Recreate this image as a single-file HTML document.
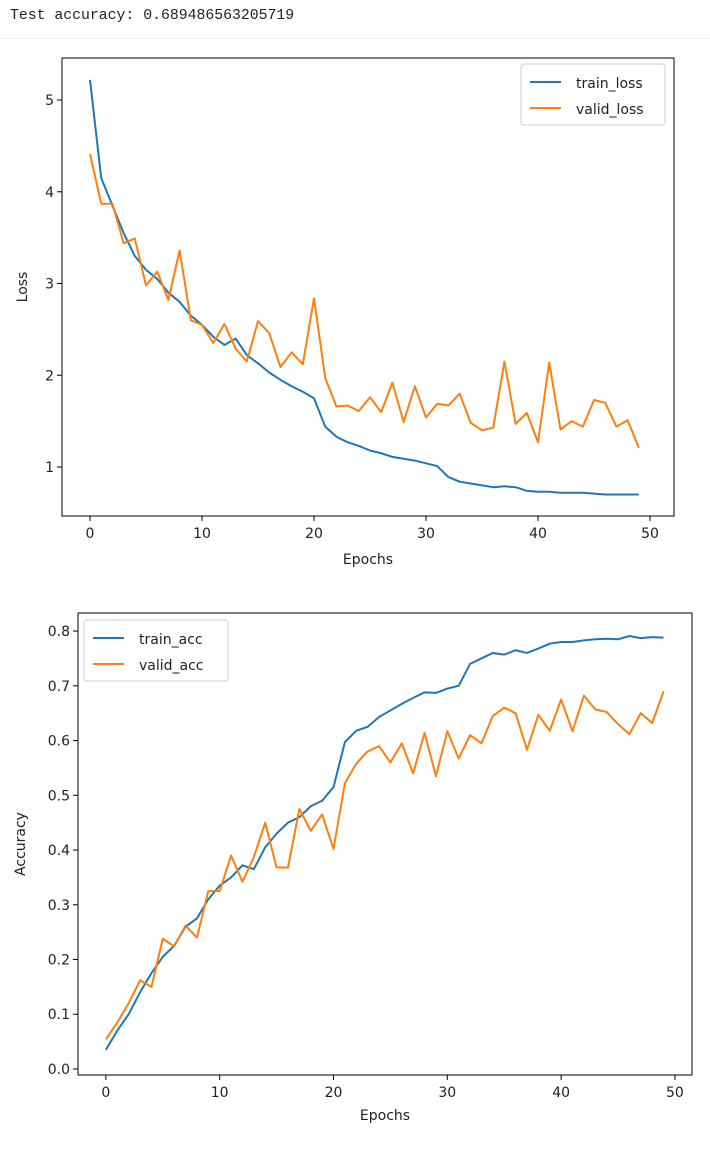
<!DOCTYPE html>
<html><head><meta charset="utf-8"><style>
body{margin:0;background:#fff;width:710px;height:1150px;overflow:hidden}
#hdr{position:absolute;left:10px;top:8px;font:14.8px "Liberation Mono","DejaVu Sans Mono",monospace;color:#222}
#sep{position:absolute;left:0;top:38px;width:710px;height:1px;background:#eee}
svg{position:absolute;left:0;top:0}
text{font-family:"DejaVu Sans","Liberation Sans",sans-serif;font-size:14px;fill:#222}
</style></head><body>
<div id="hdr">Test accuracy: 0.689486563205719</div>
<div id="sep"></div>
<svg id="s" width="710" height="1150"></svg>
<script>
const epochs=[...Array(50).keys()];
const trainLoss=[5.22,4.15,3.85,3.55,3.3,3.15,3.05,2.9,2.8,2.65,2.55,2.42,2.33,2.4,2.22,2.13,2.03,1.95,1.88,1.82,1.75,1.44,1.33,1.27,1.23,1.18,1.15,1.11,1.09,1.07,1.04,1.01,0.89,0.84,0.82,0.8,0.78,0.79,0.78,0.74,0.73,0.73,0.72,0.72,0.72,0.71,0.7,0.7,0.7,0.7];
const validLoss=[4.41,3.87,3.87,3.44,3.49,2.98,3.13,2.82,3.36,2.6,2.55,2.35,2.56,2.29,2.15,2.59,2.46,2.09,2.25,2.12,2.84,1.97,1.66,1.67,1.61,1.76,1.6,1.92,1.49,1.88,1.54,1.69,1.67,1.8,1.48,1.4,1.43,2.15,1.47,1.59,1.27,2.14,1.41,1.5,1.44,1.73,1.7,1.44,1.51,1.21];
const trainAcc=[0.035,0.07,0.1,0.14,0.175,0.205,0.225,0.26,0.275,0.31,0.335,0.35,0.372,0.365,0.405,0.43,0.45,0.46,0.48,0.49,0.515,0.597,0.618,0.625,0.643,0.655,0.667,0.678,0.688,0.687,0.695,0.7,0.74,0.75,0.76,0.757,0.765,0.76,0.768,0.777,0.78,0.78,0.783,0.785,0.786,0.785,0.791,0.787,0.789,0.788];
const validAcc=[0.054,0.085,0.12,0.162,0.15,0.238,0.224,0.262,0.24,0.325,0.325,0.39,0.342,0.387,0.45,0.368,0.368,0.475,0.435,0.465,0.402,0.522,0.558,0.58,0.59,0.56,0.595,0.54,0.614,0.535,0.617,0.567,0.61,0.595,0.645,0.66,0.65,0.583,0.647,0.618,0.675,0.617,0.682,0.657,0.652,0.63,0.612,0.65,0.632,0.69];
const xTicks=[0,10,20,30,40,50];
const lossTicks=[1,2,3,4,5];
const accTicks=[0,0.1,0.2,0.3,0.4,0.5,0.6,0.7,0.8];
const svg=document.getElementById('s');const NS='http://www.w3.org/2000/svg';
function mk(t,a,p){const e=document.createElementNS(NS,t);for(const k in a)e.setAttribute(k,a[k]);(p||svg).appendChild(e);return e;}
function chart(o){
 const g=mk('g',{});
 
 
 const X=v=>o.x0+(v-o.xmin)/(o.xmax-o.xmin)*(o.x1-o.x0);
 const Y=v=>o.y1-(v-o.ymin)/(o.ymax-o.ymin)*(o.y1-o.y0);
 xTicks.forEach(t=>{const x=X(t);mk('line',{x1:x,x2:x,y1:o.y1,y2:o.y1+5,stroke:'#000'},g);
  const tx=mk('text',{x:x,y:o.y1+22,'text-anchor':'middle'},g);tx.textContent=t;
  
  });
 o.yt.forEach(t=>{const y=Y(t);mk('line',{x1:o.x0-5,x2:o.x0,y1:y,y2:y,stroke:'#000'},g);
  const tx=mk('text',{x:o.x0-8,y:y+5,'text-anchor':'end'},g);tx.textContent=o.fmt(t);
  
  });
 o.series.forEach(s=>{const p=mk('polyline',{points:epochs.map(i=>X(i)+','+Y(s.d[i])).join(' '),fill:'none',stroke:s.c,'stroke-width':2,'stroke-linejoin':'round'},g);
  
  });
 mk('rect',{x:o.x0,y:o.y0,width:o.x1-o.x0,height:o.y1-o.y0,fill:'none',stroke:'#000','stroke-width':1},g);
 const xl=mk('text',{x:(o.x0+o.x1)/2,y:o.y1+o.xlo,'text-anchor':'middle','font-size':'15px'},g);xl.textContent='Epochs';
 
 
 const yl=mk('text',{x:0,y:0,'text-anchor':'middle','font-size':'15px',transform:`translate(${o.ylx},${(o.y0+o.y1)/2}) rotate(-90)`},g);yl.textContent=o.ylab;
 
 
 const L=mk('g',{},g);
 
 
 mk('rect',{x:o.lx,y:o.ly,width:144,height:61,rx:3,fill:'#fff',stroke:'#ccc'},L);
 o.series.forEach((s,i)=>{const yy=o.ly+18+i*26;mk('line',{x1:o.lx+9,x2:o.lx+40,y1:yy,y2:yy,stroke:s.c,'stroke-width':2},L);
  const t=mk('text',{x:o.lx+55,y:yy+6,'font-size':'16px'},L);t.textContent=s.n;
  
  });
}
chart({name:'loss-chart',x0:62,x1:674,y0:58,y1:516,xmin:-2.5,xmax:52.14,ymin:0.466,ymax:5.458,yt:lossTicks,fmt:t=>t,ylab:'Loss',ylx:27,lx:521,ly:64,xlo:48,
 series:[{n:'train_loss',d:trainLoss,c:'#1f77b4'},{n:'valid_loss',d:validLoss,c:'#ff7f0e'}]});
chart({name:'accuracy-chart',x0:78,x1:692,y0:613,y1:1075,xmin:-2.45,xmax:51.5,ymin:-0.011,ymax:0.833,yt:accTicks,fmt:t=>t.toFixed(1),ylab:'Accuracy',ylx:25,lx:84,ly:620,xlo:45,
 series:[{n:'train_acc',d:trainAcc,c:'#1f77b4'},{n:'valid_acc',d:validAcc,c:'#ff7f0e'}]});
</script>
</body></html>
